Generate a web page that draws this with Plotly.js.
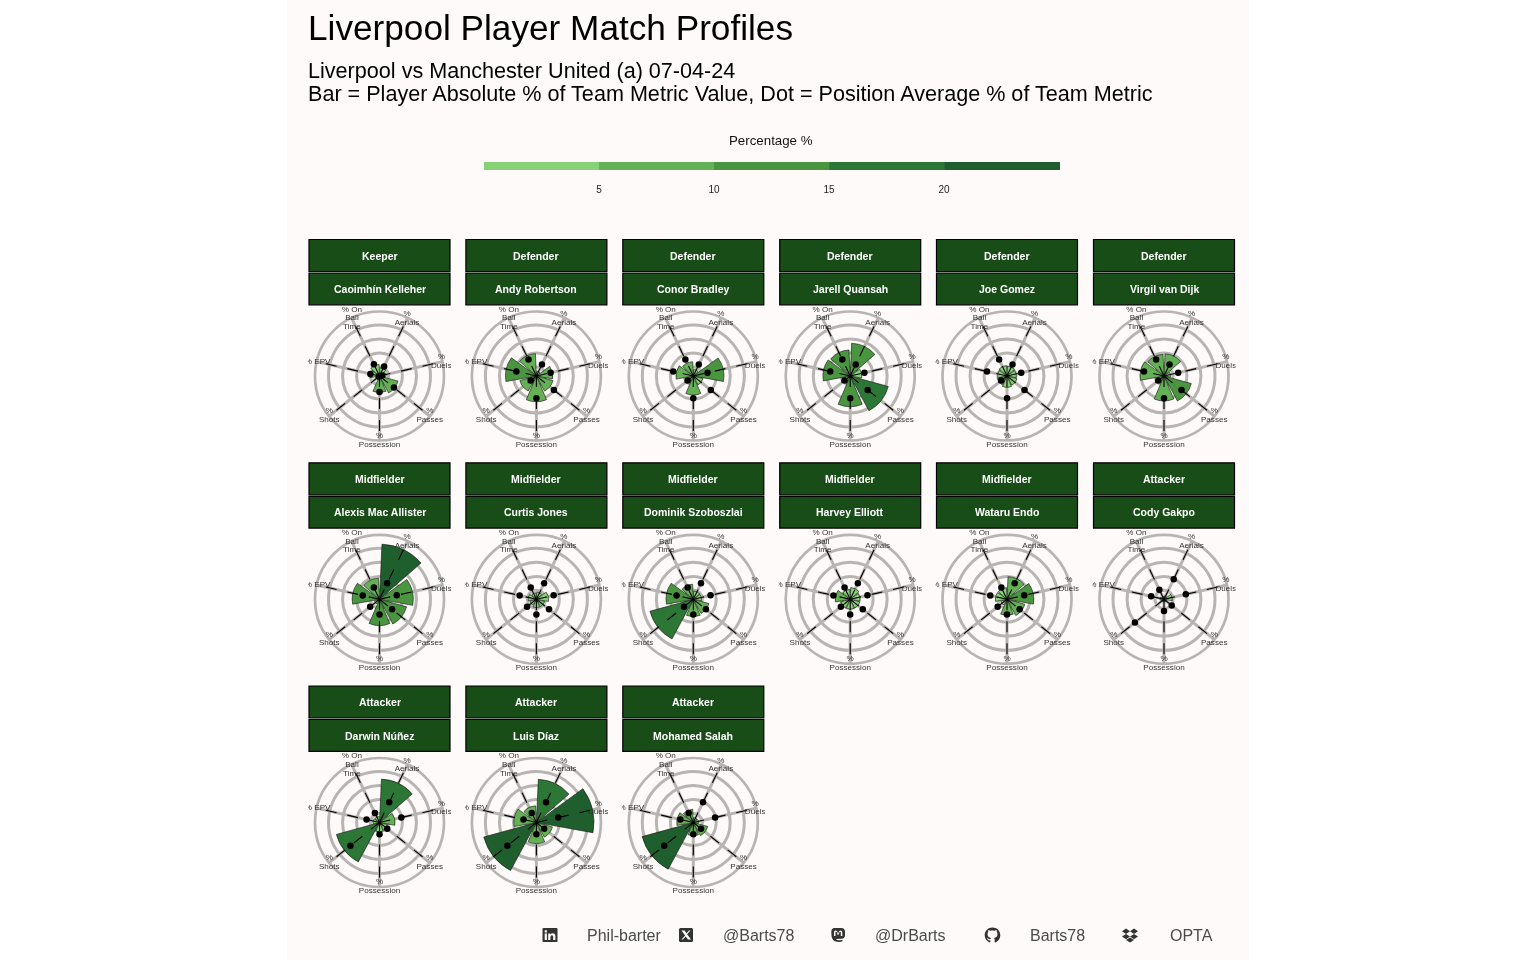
<!DOCTYPE html>
<html><head><meta charset="utf-8">
<script src="https://cdn.plot.ly/plotly-3.0.1.min.js"></script>
<style>html,body{margin:0;padding:0;background:#fff;overflow:hidden}#chart{position:absolute;left:287px;top:0;width:962px;height:960px;will-change:transform}</style>
</head><body><div id="chart"></div>
<script>
const metrics = ['Aerials','Duels','Passes','Possession','Shots','EPV','OnBall'];
const metricLabelLines = [['%','Aerials'],['%','Duels'],['%','Passes'],['%','Possession'],['%','Shots'],['% EPV'],['% On','Ball','Time']];
const players = ['Caoimhín Kelleher','Andy Robertson','Conor Bradley','Jarell Quansah','Joe Gomez','Virgil van Dijk','Alexis Mac Allister','Curtis Jones','Dominik Szoboszlai','Harvey Elliott','Wataru Endo','Cody Gakpo','Darwin Núñez','Luis Díaz','Mohamed Salah'];
const positions = ['Keeper','Defender','Defender','Defender','Defender','Defender','Midfielder','Midfielder','Midfielder','Midfielder','Midfielder','Attacker','Attacker','Attacker','Attacker'];
const avgKeeper = [4.1,1.0,7.1,6.2,0.3,3.6,5.0];
const avgDefender = [4.9,5.6,8.6,8.6,2.8,7.9,7.0];
const avgMidfielder = [6.8,6.8,6.2,5.8,4.6,6.6,5.0];
const avgAttacker = [8.6,8.6,3.8,4.5,14.3,5.1,4.1];
const kelleher = [3.2,2.5,7.4,6.4,1.5,3.6,4.5];
const robertson = [1.8,6.3,6.6,9.9,6.6,11.9,8.6];
const bradley = [2.5,11.8,3.8,7.3,2.5,6.7,5.5];
const quansah = [12.6,4.5,15.2,11.8,3.0,10.5,10.0];
const gomez = [3.8,3.6,4.0,4.4,3.8,3.6,4.0];
const vanDijk = [8.5,2.5,10.9,9.6,2.5,9.2,8.3];
const macAllister = [21.2,13.0,10.8,10.1,2.0,10.5,8.1];
const jones = [2.8,4.7,3.2,3.2,2.6,3.2,2.5];
const szoboszlai = [3.2,3.2,6.2,6.7,17.3,10.5,5.8];
const elliott = [4.5,3.8,3.8,3.8,3.8,5.8,3.8];
const endo = [8.7,10.3,7.1,6.2,2.5,4.5,4.5];
const gakpo = [1.3,3.2,1.0,1.0,1.0,1.5,1.0];
const nunez = [16.7,6.0,3.2,3.6,17.2,2.5,2.3];
const diaz = [16.6,22.1,6.4,8.1,21.0,8.7,6.4];
const salah = [1.9,2.0,5.8,5.1,20.4,6.4,5.1];
const playerValues = [kelleher,robertson,bradley,quansah,gomez,vanDijk,macAllister,jones,szoboszlai,elliott,endo,gakpo,nunez,diaz,salah];
const averages = {Keeper:avgKeeper,Defender:avgDefender,Midfielder:avgMidfielder,Attacker:avgAttacker};
const legendBreaks = [0,5,10,15,20];
const legendSpans = [5,5,5,5,5.04];
const legendColors = ['#87d177','#64b055','#4a9640','#2d7736','#1f5f2e'];
const legendTicks = [5,10,15,20];
const rings = [3.5,8.8,14.2,19.6];
const labelRadius = [24.4,24.4,24.7,21.9,24.7,24.4,24.4];
const labelAnchors = ['middle center','middle center','middle center','bottom center','middle center','middle center','middle center'];
const spokeEnd = 21.3;
const socials = ['Phil-barter','@Barts78','@DrBarts','Barts78','OPTA'];

const L=287,W=962,H=960,FONT='"Liberation Sans",Arial,Helvetica,sans-serif';
const bg='#fffafa',ringCol='#b7b4b2',stripCol='#184d18',ink='#333333';
const fx=x=>(x-L)/W, fy=y=>1-y/H;
const pathPx=s=>s.replace(/(-?[\d.]+),(-?[\d.]+)/g,(m,a,b)=>fx(+a).toFixed(5)+','+fy(+b).toFixed(5));
const colX=[379.5,536.4,693.3,850.2,1007,1164], rowY=[376,599.3,822.5], R=64.5;
const colorOf=v=>legendColors[Math.min(4,Math.floor(v/5))];
const metricLabels=metricLabelLines.map(ls=>ls.map(t=>'<span style="font-size:8.1px">'+t+'</span>').join('<br>'));

const data=[],shapes=[],annotations=[],layout={};
const addText=(x,y,t,size,col,anchor,bold)=>annotations.push({xref:'paper',yref:'paper',x:fx(x),y:fy(y),text:bold?'<b>'+t+'</b>':t,showarrow:false,xanchor:anchor||'center',yanchor:'middle',font:{family:FONT,size:size,color:col},align:anchor||'center'});

data.push({type:'bar',orientation:'h',base:legendBreaks,x:legendSpans,y:legendBreaks.map(()=>0),width:1,marker:{color:legendColors,line:{width:0}},xaxis:'x',yaxis:'y',hoverinfo:'skip',showlegend:false});
layout.xaxis={domain:[fx(484),fx(1060)],range:[0,25.04],tickvals:legendTicks,ticktext:legendTicks.map(String),ticks:'outside',ticklen:10,tickcolor:'rgba(0,0,0,0)',tickfont:{family:FONT,size:10,color:'#222'},showgrid:false,zeroline:false,showline:false,anchor:'y',fixedrange:true};
layout.yaxis={domain:[fy(170),fy(162)],range:[-0.5,0.5],visible:false,fixedrange:true};
layout.barmode='overlay';

players.forEach((name,i)=>{
  const c=i%6,r=Math.floor(i/6),cx=colX[c],cy=rowY[r],id=i===0?'polar':'polar'+(i+1);
  const dy=cy-376;
  layout[id]={
    domain:{x:[fx(cx-R),fx(cx+R)],y:[fy(cy+R),fy(cy-R)]},
    bgcolor:'rgba(0,0,0,0)',
    radialaxis:{range:[0,24.8],tickvals:rings,showticklabels:false,ticks:'',showline:false,gridcolor:ringCol,gridwidth:2.7,layer:'below traces',angle:90},
    angularaxis:{type:'category',categoryorder:'array',categoryarray:metrics,direction:'clockwise',rotation:64.29,showticklabels:false,ticks:'',showline:true,linecolor:ringCol,linewidth:2.7,gridcolor:ringCol,gridwidth:2.7,layer:'below traces'}
  };
  data.push({type:'barpolar',subplot:id,theta:metrics,r:playerValues[i],width:0.9,marker:{color:playerValues[i].map(colorOf),line:{color:'#111',width:0.6}},hoverinfo:'skip',showlegend:false});
  const th=[],rr=[];metrics.forEach(m=>{th.push(m,m,null);rr.push(0,spokeEnd,null);});
  data.push({type:'scatterpolar',subplot:id,mode:'lines',theta:th,r:rr,line:{color:'#000',width:1.1,dash:'11px,11px'},connectgaps:false,hoverinfo:'skip',showlegend:false});
  data.push({type:'scatterpolar',subplot:id,mode:'markers',theta:metrics,r:averages[positions[i]],marker:{color:'#000',size:6.5},hoverinfo:'skip',showlegend:false});
  data.push({type:'scatterpolar',subplot:id,mode:'text',theta:metrics,r:labelRadius,text:metricLabels,textposition:labelAnchors,cliponaxis:false,textfont:{family:FONT,size:6.7,color:ink},hoverinfo:'skip',showlegend:false});
  const x0=cx-70.5,x1=cx+70.5;
  [[239.5,271.5,positions[i],255.8],[273,304.8,name,289]].forEach(s=>{
    shapes.push({type:'rect',xref:'paper',yref:'paper',x0:fx(x0),x1:fx(x1),y0:fy(s[0]+dy),y1:fy(s[1]+dy),fillcolor:stripCol,line:{color:'#000',width:1.2},layer:'above'});
    addText(cx,s[3]+dy,s[2],10.5,'#fff','center',true);
  });
});
rowY.forEach(cy=>{
  colX.forEach(cx=>{
    [[cx-80,cx-71.5],[cx+71.5,cx+78]].forEach(s=>shapes.push({type:'rect',xref:'paper',yref:'paper',x0:fx(s[0]),x1:fx(s[1]),y0:fy(cy+72),y1:fy(cy-66),fillcolor:bg,line:{width:0},layer:'above'}));
  });
});

layout.title={text:'Liverpool Player Match Profiles',x:fx(308),xref:'paper',xanchor:'left',y:fy(28),yref:'paper',yanchor:'middle',font:{family:FONT,size:35.2,color:'#000'},pad:{l:0,t:0,r:0,b:0}};
addText(305.7,70.6,'Liverpool vs Manchester United (a) 07-04-24',21.6,'#000','left');
addText(305.7,94,'Bar = Player Absolute % of Team Metric Value, Dot = Position Average % of Team Metric',21.6,'#000','left');
addText(771,141,'Percentage %',13.3,'#111');

const icon=(d,fill)=>shapes.push({type:'path',xref:'paper',yref:'paper',path:pathPx(d),fillcolor:fill||'#333',line:{width:0},layer:'above'});
icon('M543.5,928 L556.5,928 Q557.5,928 557.5,929 L557.5,941 Q557.5,942 556.5,942 L543.5,942 Q542.5,942 542.5,941 L542.5,929 Q542.5,928 543.5,928 Z');
icon('M544.7,933.5 L546.9,933.5 L546.9,940 L544.7,940 Z M544.7,930.2 L546.9,930.2 L546.9,932.4 L544.7,932.4 Z M548.2,933.5 L550.2,933.5 L550.2,934.5 Q551,933.3 552.6,933.3 Q555.4,933.3 555.4,936.3 L555.4,940 L553.2,940 L553.2,936.8 Q553.2,935.2 552,935.2 Q550.4,935.2 550.4,936.9 L550.4,940 L548.2,940 Z',bg);
icon('M680.5,928 L691.5,928 Q693,928 693,929.5 L693,940.5 Q693,942 691.5,942 L680.5,942 Q679,942 679,940.5 L679,929.5 Q679,928 680.5,928 Z');
icon('M681.5,930.5 L684.5,930.5 L686.5,933.3 L689,930.5 L690.4,930.5 L687.1,934.2 L691,939.6 L688,939.6 L685.7,936.4 L682.9,939.6 L681.5,939.6 L685.1,935.5 Z',bg);
icon('M834,928 L842,928 Q845,928.5 845,932 L845,935 Q845,938.5 841.5,938.8 L836,939 Q836.5,940.4 839,940.3 L842.5,940 L842.5,941.3 Q840,942.3 837,941.8 Q832,941 831.5,936 L831.3,932 Q831.3,928.5 834,928 Z');
icon('M834,936 L834,932.3 Q834,930.4 835.6,930.4 Q837.3,930.4 837.6,932.4 L838.1,933.6 L838.6,932.4 Q839,930.4 840.6,930.4 Q842.3,930.4 842.3,932.3 L842.3,936 L840.8,936 L840.8,932.6 Q840.8,931.8 840,931.8 Q839.1,931.8 839.1,933.3 L839.1,934.6 L837.2,934.6 L837.2,933.3 Q837.2,931.8 836.2,931.8 Q835.5,931.8 835.5,932.6 L835.5,936 Z',bg);
icon('M992.5,927.5 C997,927.5 1000.3,931 1000.3,935.3 C1000.3,938.6 998.3,941.3 995.3,942.5 C994.8,942.5 994.6,942.3 994.6,942 L994.6,939.6 C994.6,938.7 994.3,938.2 994,937.9 C995.7,937.7 997.5,937 997.5,934.1 C997.5,933.2 997.2,932.6 996.7,932.1 C996.8,931.8 997,931 996.6,930 C996,929.8 994.6,930.8 994.6,930.8 C993.2,930.4 991.8,930.4 990.4,930.8 C990.4,930.8 989,929.8 988.4,930 C988,931 988.2,931.8 988.3,932.1 C987.8,932.6 987.5,933.2 987.5,934.1 C987.5,937 989.3,937.7 991,937.9 C990.7,938.2 990.5,938.6 990.5,939 C989.5,939.4 988.6,939.2 988,938.2 C987.6,937.6 986.8,937.5 986.6,937.8 C987.4,938.4 987.6,939 988,939.8 C988.5,940.7 990.4,940.4 990.4,940.4 L990.4,942 C990.4,942.3 990.2,942.5 989.7,942.5 C986.7,941.3 984.7,938.6 984.7,935.3 C984.7,931 988,927.5 992.5,927.5 Z');
icon('M1126,928.5 L1130,931.2 L1126,933.9 L1122,931.2 Z M1134,928.5 L1138,931.2 L1134,933.9 L1130,931.2 Z M1126,933.9 L1130,936.6 L1126,939.3 L1122,936.6 Z M1134,933.9 L1138,936.6 L1134,939.3 L1130,936.6 Z M1126,940 L1130,937.5 L1134,940 L1130,942.5 Z');
[[585],[721],[873],[1028],[1167.5]].forEach((p,k)=>addText(p[0],935.5,socials[k],16,'#4a4a4a','left'));

Object.assign(layout,{width:W,height:H,margin:{l:0,r:0,t:0,b:0,pad:0},paper_bgcolor:bg,plot_bgcolor:bg,showlegend:false,shapes,annotations,font:{family:FONT}});
Plotly.newPlot('chart',data,layout,{displayModeBar:false,responsive:false});
</script></body></html>
